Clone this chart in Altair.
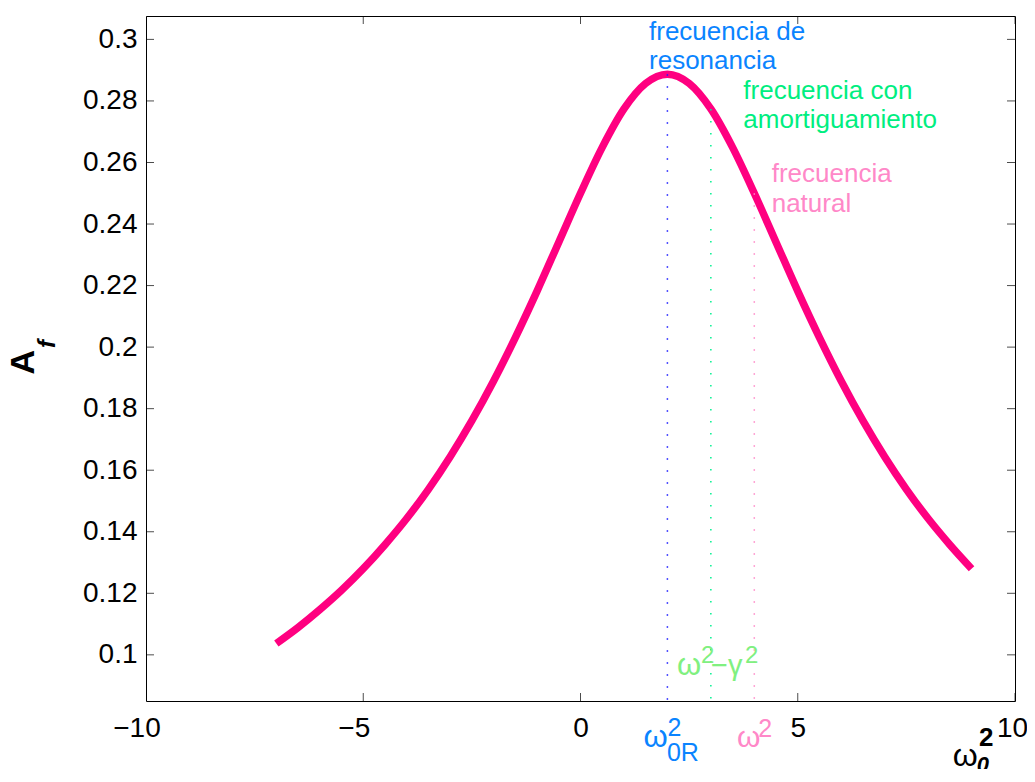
import altair as alt
import pandas as pd

FONT = "Liberation Sans"

# ---- data ----
w0_sq = [-7, -6.5, -6, -5.5, -5, -4.5, -4, -3.5, -3, -2.5, -2, -1.5, -1, -0.5,
         0, 0.5, 1, 1.5, 2, 2.5, 3, 3.5, 4, 4.5, 5, 5.5, 6, 6.5, 7, 7.5, 8, 8.5, 9]
amp = [0.1037, 0.1089, 0.1147, 0.1210, 0.1280, 0.1358, 0.1443, 0.1538, 0.1644,
       0.1761, 0.1890, 0.2031, 0.2182, 0.2341, 0.2500, 0.2649, 0.2774, 0.2857,
       0.2887, 0.2857, 0.2774, 0.2649, 0.2500, 0.2341, 0.2182, 0.2031, 0.1890,
       0.1761, 0.1644, 0.1538, 0.1443, 0.1358, 0.1280]

x_ticks = [-10, -5, 0, 5, 10]
y_ticks = [0.1, 0.12, 0.14, 0.16, 0.18, 0.2, 0.22, 0.24, 0.26, 0.28, 0.3]

marker_name = ["resonancia", "amortiguamiento", "natural"]
marker_x = [2, 3, 4]
marker_top = [0.2887, 0.2774, 0.2500]
marker_color = ["#1a1aff", "#00f090", "#ff88c8"]

XMIN, XMAX = -10, 10
YMIN, YMAX = 0.085, 0.3076

curve_df = pd.DataFrame({"w": w0_sq, "A": amp})
marker_df = pd.DataFrame({"name": marker_name, "x": marker_x, "top": marker_top})
xt_df = pd.DataFrame({"x": x_ticks})
yt_df = pd.DataFrame({"y": y_ticks})
one = pd.DataFrame({"k": [0]})

xs = alt.Scale(domain=[XMIN, XMAX], nice=False, zero=False)
ys = alt.Scale(domain=[YMIN, YMAX], nice=False, zero=False)

x_axis = alt.Axis(values=x_ticks, format="d", labelFontSize=28, labelFont=FONT,
                  labelColor="black", ticks=False, domain=False, grid=False,
                  labelPadding=13, labelFlush=False, labelOverlap=False, labelBound=False,
                  labelOffset={"condition": [{"test": "datum.value < 0", "value": -9.5},
                                             {"test": "datum.value > 9", "value": -3}],
                               "value": 0})
y_axis = alt.Axis(values=y_ticks, format="~g", labelFontSize=28, labelFont=FONT,
                  labelColor="black", ticks=False, domain=False, grid=False,
                  labelPadding=9, labelOverlap=False, labelBound=False)

curve = alt.Chart(curve_df).mark_line(
    color="#ff0080", strokeWidth=7.5, interpolate="monotone"
).encode(
    x=alt.X("w:Q", scale=xs, axis=x_axis, title=None),
    y=alt.Y("A:Q", scale=ys, axis=y_axis, title=None),
)

markers = alt.Chart(marker_df).mark_rule(strokeWidth=1.5, strokeDash=[1.5, 10.5]).encode(
    x="x:Q",
    y="top:Q",
    y2=alt.datum(YMIN),
    color=alt.Color("name:N", scale=alt.Scale(domain=marker_name, range=marker_color), legend=None),
)

# inward ticks (MATLAB box style); half of each tick is clipped away
tick_bottom = alt.Chart(xt_df).mark_tick(orient="vertical", size=16, thickness=1, color="black", clip=True).encode(
    x="x:Q", y=alt.datum(YMIN))
tick_top = alt.Chart(xt_df).mark_tick(orient="vertical", size=16, thickness=1, color="black", clip=True).encode(
    x="x:Q", y=alt.datum(YMAX))
tick_left = alt.Chart(yt_df).mark_tick(orient="horizontal", size=16, thickness=1, color="black", clip=True).encode(
    y="y:Q", x=alt.datum(XMIN))
tick_right = alt.Chart(yt_df).mark_tick(orient="horizontal", size=16, thickness=1, color="black", clip=True).encode(
    y="y:Q", x=alt.datum(XMAX))


def note(text, x, y, color, size, weight="normal", style="normal",
         align="left", baseline="alphabetic", angle=0):
    return alt.Chart(one).mark_text(
        text=text, align=align, baseline=baseline, color=color, fontSize=size,
        fontWeight=weight, fontStyle=style, font=FONT, angle=angle,
    ).encode(x=alt.datum(x), y=alt.datum(y))


BLUE = "#0a84ff"
GREEN = "#00ee80"
PINK = "#ff88c8"
LGREEN = "#80f080"

notes = [
    note("frecuencia de", 1.577, 0.2999, BLUE, 26),
    note("resonancia", 1.577, 0.2905, BLUE, 26),
    note("frecuencia con", 3.747, 0.2807, GREEN, 26),
    note("amortiguamiento", 3.747, 0.2713, GREEN, 26),
    note("frecuencia", 4.40, 0.2535, PINK, 26),
    note("natural", 4.40, 0.2439, PINK, 26),
    # ω² − γ² inside the plot
    note("ω", 2.22, 0.0935, LGREEN, 31),
    note("2", 2.773, 0.0973, LGREEN, 24),
    note("−γ", 3.003, 0.0935, LGREEN, 29),
    note("2", 3.786, 0.0973, LGREEN, 24),
    # labels below the axis
    note("ω", 1.45, 0.0701, BLUE, 31),
    note("2", 2.0, 0.0737, BLUE, 25),
    note("0R", 1.99, 0.0655, BLUE, 25),
    note("ω", 3.60, 0.0701, PINK, 30),
    note("2", 4.09, 0.0734, PINK, 25),
    # x axis title
    note("ω", 8.57, 0.0640, "black", 32),
    note("2", 9.17, 0.0703, "black", 26, weight="bold"),
    note("0", 9.12, 0.0618, "black", 22, weight="bold", style="italic"),
    # y axis title
    note("A", -12.81, 0.1951, "black", 34, weight="bold", align="center", baseline="middle", angle=270),
    note("f", -12.26, 0.2010, "black", 24, weight="bold", style="italic", align="center", baseline="middle", angle=270),
]

chart = alt.layer(
    curve, markers, tick_bottom, tick_top, tick_left, tick_right, *notes
).properties(
    width=869, height=685,
    autosize=alt.AutoSizeParams(type="none"),
    padding={"left": 138, "top": 8, "right": 12, "bottom": 68},
    background="white",
).configure_view(
    stroke="black", strokeWidth=1
)

chart.save("out.html", embed_options={"renderer": "svg", "actions": False})
